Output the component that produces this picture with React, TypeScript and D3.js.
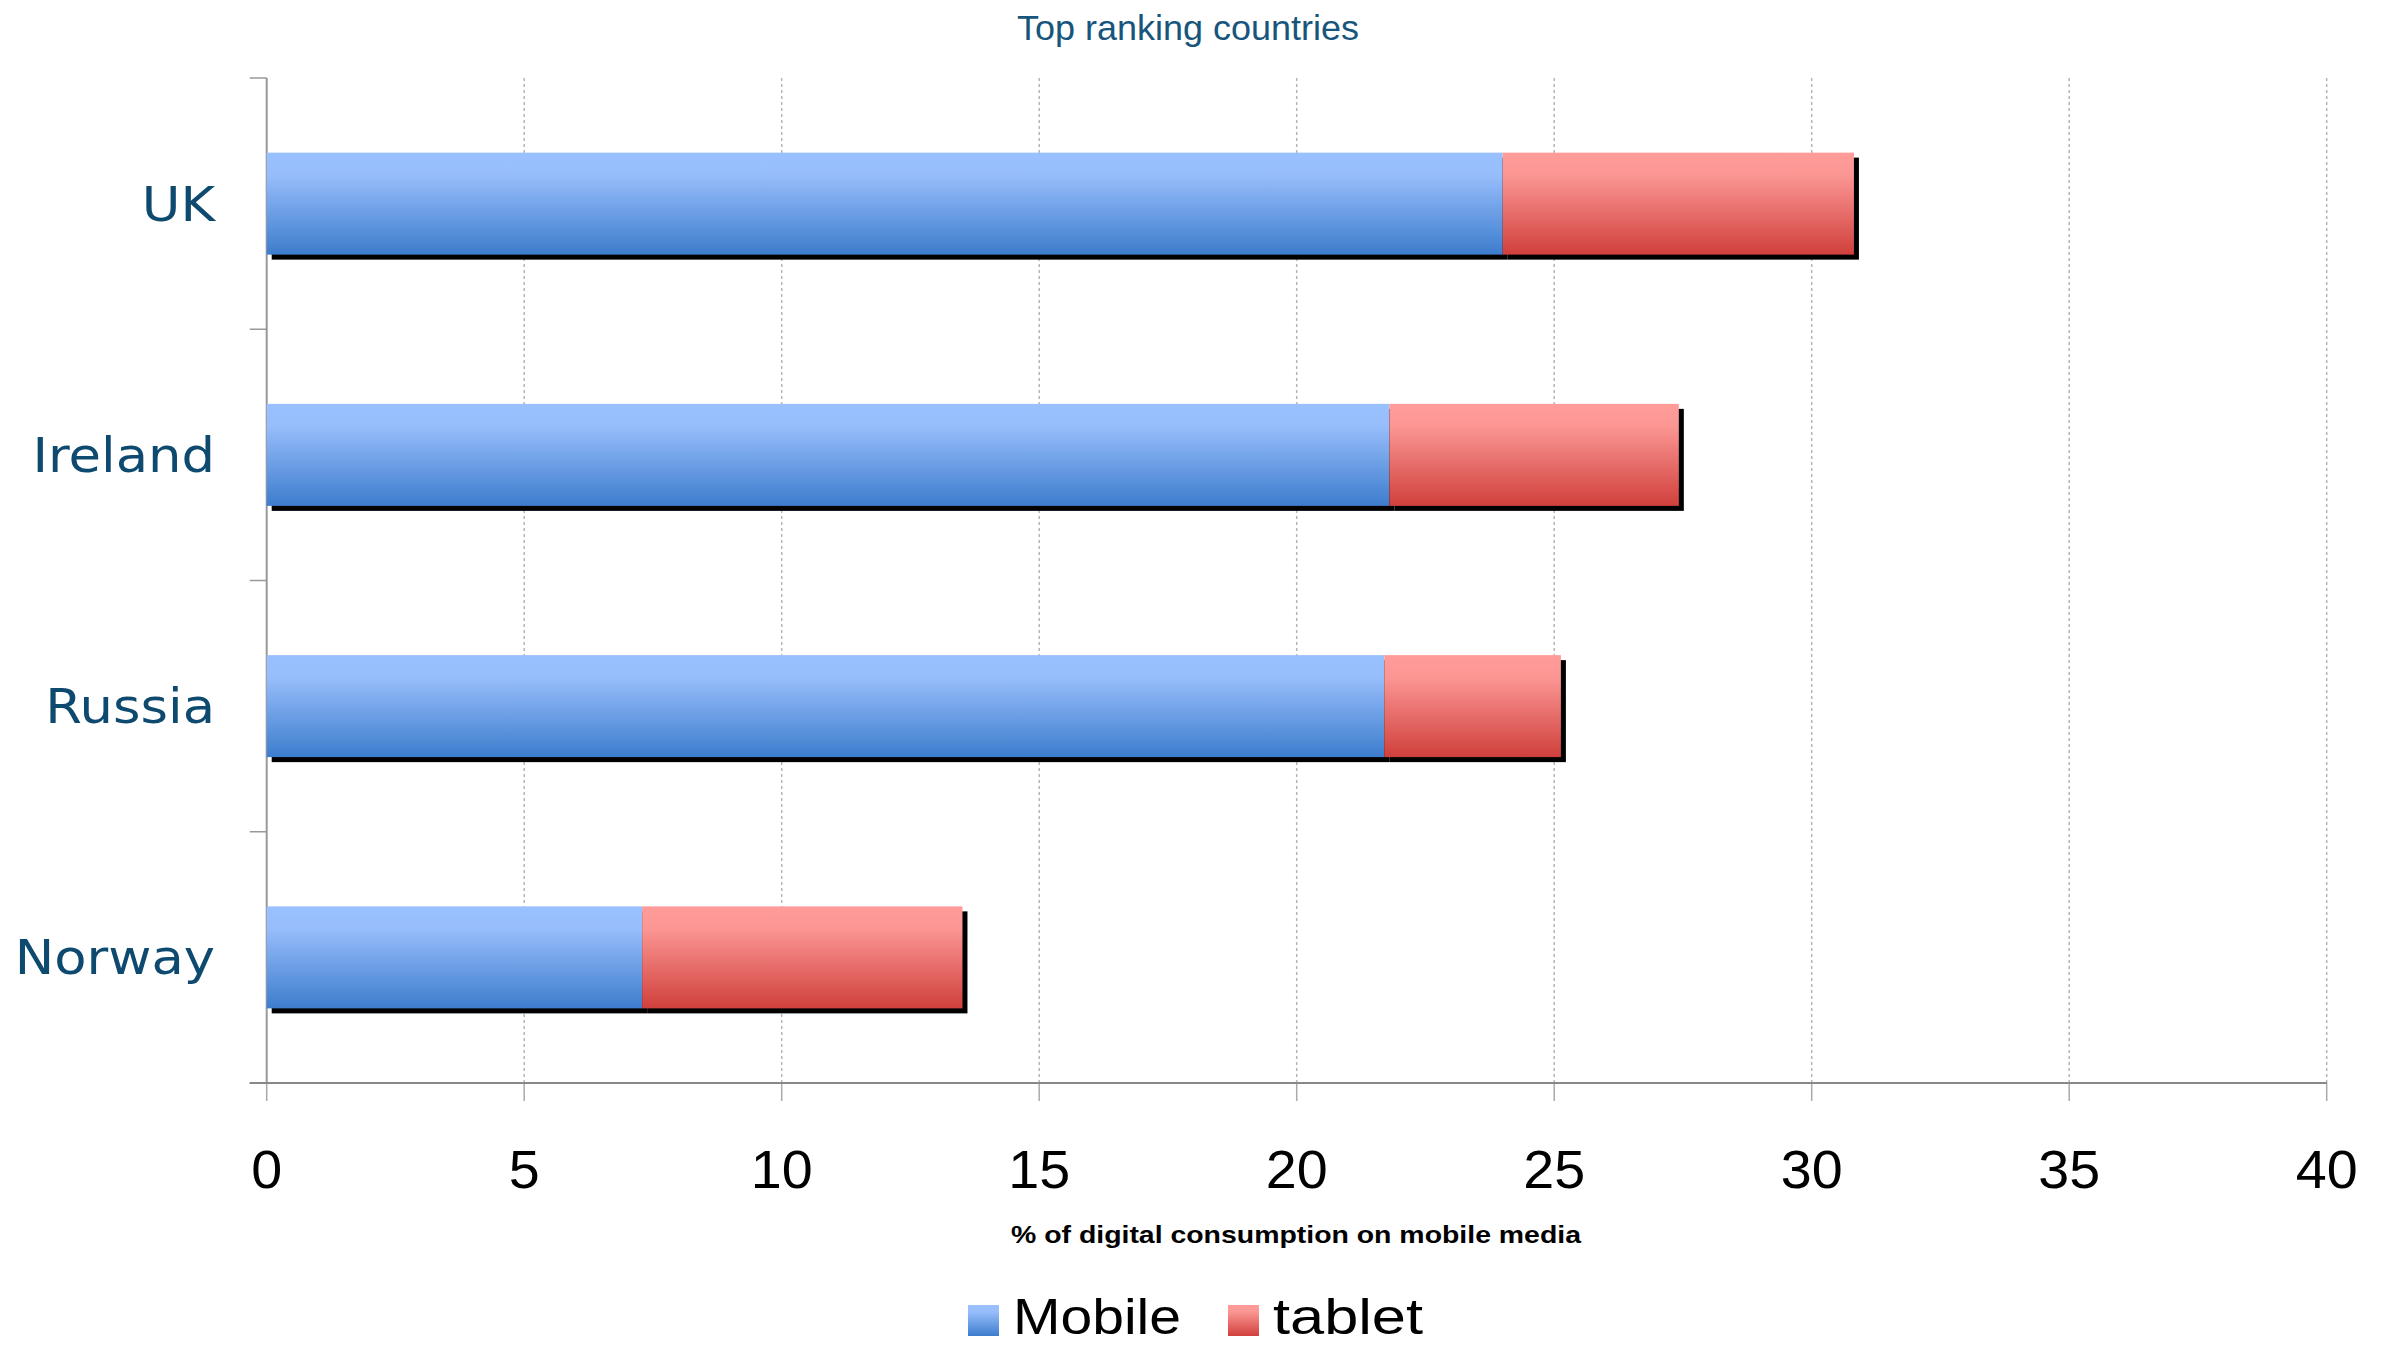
import React from "react";
import * as d3 from "d3";

const categories = ["UK", "Ireland", "Russia", "Norway"];
const mobile = [24.0, 21.8, 21.7, 7.29];
const tablet = [6.82, 5.62, 3.43, 6.22];
const xTicks = [0, 5, 10, 15, 20, 25, 30, 35, 40];
const seriesNames = ["Mobile", "tablet"];
const titleText = "Top ranking countries";
const xTitle = "% of digital consumption on mobile media";

const W = 2391;
const H = 1345;
const left = 266.7;
const right = 2326.7;
const top = 78;
const bottom = 1083;

export default function App() {
  const x = d3.scaleLinear().domain([0, 40]).range([left, right]);
  const y = d3
    .scaleBand<string>()
    .domain(categories)
    .range([top, bottom])
    .paddingInner(0.594)
    .paddingOuter(0.297);
  const step = y.step();
  const boundaries = d3.range(categories.length + 1).map((i) => top + i * step);

  const stacked = categories.map((c, i) => ({
    cat: c,
    segs: [
      { x0: 0, x1: mobile[i], fill: "url(#gBlue)" },
      { x0: mobile[i], x1: mobile[i] + tablet[i], fill: "url(#gRed)" },
    ],
  }));

  const labelColor = "#0e4a6f";

  return (
    <svg
      width={W}
      height={H}
      style={{ position: "absolute", left: 0, top: 0, background: "#fff" }}
    >
      <defs>
        <linearGradient id="gBlue" x1="0" y1="0" x2="0" y2="1">
          <stop offset="0" stopColor="#9ac1ff" />
          <stop offset="0.22" stopColor="#97bdfb" />
          <stop offset="1" stopColor="#3d7dcd" />
        </linearGradient>
        <linearGradient id="gRed" x1="0" y1="0" x2="0" y2="1">
          <stop offset="0" stopColor="#ff9c9a" />
          <stop offset="0.22" stopColor="#fb9693" />
          <stop offset="1" stopColor="#d0403c" />
        </linearGradient>
      </defs>

      {/* title */}
      <text
        x={1188}
        y={40}
        textAnchor="middle"
        fontFamily="Liberation Sans, Arial, sans-serif"
        fontSize={35}
        textLength={342}
        lengthAdjust="spacingAndGlyphs"
        fill="#17557c"
      >
        {titleText}
      </text>

      {/* vertical gridlines (dotted) */}
      {xTicks.slice(1).map((t) => (
        <line
          key={"g" + t}
          x1={x(t)}
          x2={x(t)}
          y1={top}
          y2={bottom}
          stroke="#b5b5b5"
          strokeWidth={1.5}
          strokeDasharray="3,3"
        />
      ))}

      {/* x ticks below axis */}
      {xTicks.map((t) => (
        <line
          key={"t" + t}
          x1={x(t)}
          x2={x(t)}
          y1={bottom}
          y2={bottom + 18}
          stroke="#aaaaaa"
          strokeWidth={1.5}
        />
      ))}

      {/* y axis */}
      <line x1={left} x2={left} y1={top} y2={bottom} stroke="#999" strokeWidth={2} />
      {boundaries.map((b, i) => (
        <line
          key={"yb" + i}
          x1={left - 17}
          x2={left}
          y1={b}
          y2={b}
          stroke="#999"
          strokeWidth={1.5}
        />
      ))}

      {/* bars: shadows */}
      {stacked.map((s) =>
        s.segs.map((seg, j) => (
          <rect
            key={"sh" + s.cat + j}
            x={x(seg.x0) + 5}
            y={(y(s.cat) as number) + 5}
            width={x(seg.x1) - x(seg.x0)}
            height={y.bandwidth()}
            fill="#000"
          />
        ))
      )}
      {/* bars */}
      {stacked.map((s) =>
        s.segs.map((seg, j) => (
          <rect
            key={"b" + s.cat + j}
            x={x(seg.x0)}
            y={y(s.cat) as number}
            width={x(seg.x1) - x(seg.x0)}
            height={y.bandwidth()}
            fill={seg.fill}
          />
        ))
      )}

      {/* x axis line */}
      <line x1={left - 17} x2={right} y1={bottom} y2={bottom} stroke="#888" strokeWidth={2} />

      {/* x tick labels */}
      {xTicks.map((t) => (
        <text
          key={"l" + t}
          transform={`translate(${x(t)},1188) scale(1.05,1)`}
          textAnchor="middle"
          fontFamily="Liberation Sans, Arial, sans-serif"
          fontSize={53}
          fill="#000"
        >
          {t}
        </text>
      ))}

      {/* y labels */}
      {categories.map((c) => (
        <text
          key={"y" + c}
          transform={`translate(215,${(y(c) as number) + y.bandwidth() / 2 + 17}) scale(1.1,1)`}
          textAnchor="end"
          fontFamily="DejaVu Sans, Verdana, sans-serif"
          fontSize={48}
          fill={labelColor}
        >
          {c}
        </text>
      ))}

      {/* x title */}
      <text
        x={1296}
        y={1243}
        textAnchor="middle"
        fontFamily="Liberation Sans, Arial, sans-serif"
        fontWeight="bold"
        fontSize={24}
        textLength={570}
        lengthAdjust="spacingAndGlyphs"
        fill="#000"
      >
        {xTitle}
      </text>

      {/* legend */}
      <rect x={968} y={1305} width={31} height={31} fill="url(#gBlue)" />
      <text
        x={1013}
        y={1334}
        fontFamily="Liberation Sans, Arial, sans-serif"
        fontSize={50}
        textLength={168}
        lengthAdjust="spacingAndGlyphs"
        fill="#000"
      >
        {seriesNames[0]}
      </text>
      <rect x={1228} y={1305} width={31} height={31} fill="url(#gRed)" />
      <text
        x={1273}
        y={1334}
        fontFamily="Liberation Sans, Arial, sans-serif"
        fontSize={50}
        textLength={150}
        lengthAdjust="spacingAndGlyphs"
        fill="#000"
      >
        {seriesNames[1]}
      </text>
    </svg>
  );
}
